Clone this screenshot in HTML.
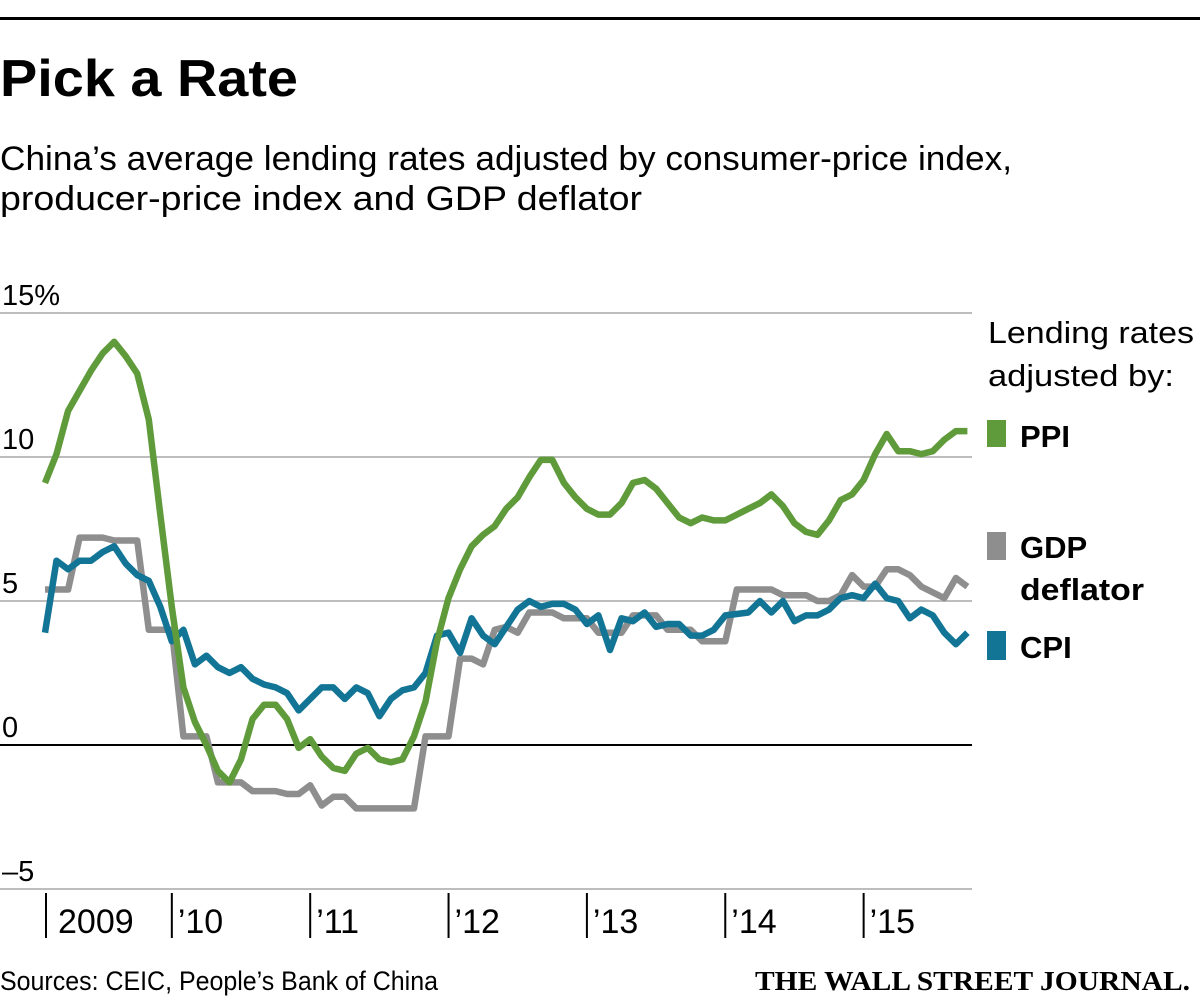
<!DOCTYPE html>
<html><head><meta charset="utf-8"><style>
html,body{margin:0;padding:0;background:#fff;}
svg{display:block;font-family:"Liberation Sans",sans-serif;}
</style></head><body>
<svg id="chart" width="1200" height="1005" viewBox="0 0 1200 1005" xmlns="http://www.w3.org/2000/svg">
<rect x="0" y="17" width="1200" height="3" fill="#000"/>
<text x="0" y="96" font-size="52" font-weight="bold" textLength="298" lengthAdjust="spacingAndGlyphs">Pick a Rate</text>
<text x="0" y="170" font-size="34" textLength="1012" lengthAdjust="spacingAndGlyphs">China’s average lending rates adjusted by consumer-price index,</text>
<text x="0" y="210" font-size="34" textLength="642" lengthAdjust="spacingAndGlyphs">producer-price index and GDP deflator</text>
<g id="grid"></g>
<g id="xaxis"></g>
<g id="lines"></g>
<g>
<text x="988" y="343" font-size="31" textLength="206" lengthAdjust="spacingAndGlyphs">Lending rates</text>
<text x="988" y="386" font-size="31" textLength="186" lengthAdjust="spacingAndGlyphs">adjusted by:</text>
<rect x="987" y="420" width="19" height="27" fill="#5f9b3a"/>
<text x="1020" y="447" font-size="31" font-weight="bold">PPI</text>
<rect x="987" y="532" width="19" height="28" fill="#8e8e8e"/>
<text x="1020" y="558" font-size="31" font-weight="bold">GDP</text>
<text x="1020" y="600" font-size="31" font-weight="bold" textLength="124" lengthAdjust="spacingAndGlyphs">deflator</text>
<rect x="987" y="631" width="19" height="29" fill="#137596"/>
<text x="1020" y="658" font-size="31" font-weight="bold">CPI</text>
</g>
<text x="0" y="990" font-size="27" textLength="438" lengthAdjust="spacingAndGlyphs">Sources: CEIC, People’s Bank of China</text>
<text x="1190" y="990" font-size="27" font-weight="bold" text-anchor="end" font-family="Liberation Serif, serif" textLength="435" lengthAdjust="spacingAndGlyphs">THE WALL STREET JOURNAL.</text>
</svg>
<script>
const yTicks = [15, 10, 5, 0, -5];
const yTickLabels = ["15%", "10", "5", "0", "–5"];
const xTickMonths = [0, 11, 23, 35, 47, 59, 71];
const xTickLabels = ["2009", "’10", "’11", "’12", "’13", "’14", "’15"];
const ppi = [9.1,10.1,11.6,12.3,13.0,13.6,14.0,13.5,12.9,11.3,8.0,4.8,2.0,0.8,0.0,-0.9,-1.3,-0.5,0.9,1.4,1.4,0.9,-0.1,0.2,-0.4,-0.8,-0.9,-0.3,-0.1,-0.5,-0.6,-0.5,0.3,1.5,
3.6,5.1,6.1,6.9,7.3,7.6,8.2,8.6,9.3,9.9,9.9,9.1,8.6,8.2,8.0,8.0,8.4,9.1,9.2,8.9,8.4,7.9,7.7,7.9,7.8,7.8,
8.0,8.2,8.4,8.7,8.3,7.7,7.4,7.3,7.8,8.5,8.7,9.2,10.1,10.8,10.2,10.2,10.1,10.2,10.6,10.9,10.9];
const gdp = [5.4,5.4,5.4,7.2,7.2,7.2,7.1,7.1,7.1,4.0,4.0,4.0,0.3,0.3,0.3,-1.3,-1.3,-1.3,-1.6,-1.6,-1.6,-1.7,-1.7,-1.4,-2.1,-1.8,-1.8,-2.2,-2.2,-2.2,-2.2,-2.2,-2.2,0.3,
0.3,0.3,3.0,3.0,2.8,4.0,4.1,3.9,4.6,4.6,4.6,4.4,4.4,4.4,3.9,3.9,3.9,4.5,4.5,4.5,4.0,4.0,4.0,3.6,3.6,3.6,
5.4,5.4,5.4,5.4,5.2,5.2,5.2,5.0,5.0,5.2,5.9,5.5,5.5,6.1,6.1,5.9,5.5,5.3,5.1,5.8,5.5];
const cpi = [3.9,6.4,6.1,6.4,6.4,6.7,6.9,6.3,5.9,5.7,4.8,3.6,4.0,2.8,3.1,2.7,2.5,2.7,2.3,2.1,2.0,1.8,1.2,1.6,2.0,2.0,1.6,2.0,1.8,1.0,1.6,1.9,2.0,2.5,
3.8,3.9,3.2,4.4,3.8,3.5,4.1,4.7,5.0,4.8,4.9,4.9,4.7,4.2,4.5,3.3,4.4,4.3,4.6,4.1,4.2,4.2,3.8,3.8,4.0,4.5,
4.55,4.6,5.0,4.6,5.0,4.3,4.5,4.5,4.7,5.1,5.2,5.1,5.6,5.1,5.0,4.4,4.7,4.5,3.9,3.5,3.9];

const NS = "http://www.w3.org/2000/svg";
function xs(i){ return 45 + i * 11.53; }
function ys(v){ return 745 - v * 28.8; }
function mk(tag, attrs, parent){
  const e = document.createElementNS(NS, tag);
  for (const k in attrs) e.setAttribute(k, attrs[k]);
  parent.appendChild(e); return e;
}
const grid = document.getElementById('grid');
yTicks.forEach((t, k) => {
  const ln = mk('line', {x1:0, x2:972, y1:ys(t), y2:ys(t), stroke: t===0 ? '#000' : '#bdbdbd', 'stroke-width': 2}, grid);
  
  
  const tx = mk('text', {x:2, y:ys(t)-8, 'font-size':29}, grid);
  tx.textContent = yTickLabels[k];
  
  
});
const xa = document.getElementById('xaxis');
xTickMonths.forEach((m, k) => {
  const x = xs(m) + (k===0 ? 1 : 0);
  const tk = mk('line', {x1:x, x2:x, y1:893, y2:938, stroke:'#000', 'stroke-width':2}, xa);
  
  
  const tx = mk('text', {x:x+(k===0?12:6), y:933, 'font-size':34}, xa);
  tx.textContent = xTickLabels[k];
  
  
});
const lines = document.getElementById('lines');
[[gdp,'#8e8e8e','gdp-deflator-line'],[cpi,'#137596','cpi-line'],[ppi,'#5f9b3a','ppi-line']].forEach(s => {
  const d = s[0].map((v,i) => (i?'L':'M') + xs(i).toFixed(1) + ',' + ys(v).toFixed(1)).join(' ');
  const p = mk('path', {d:d, fill:'none', stroke:s[1], 'stroke-width':6.5, 'stroke-linejoin':'round'}, lines);
  
  
});
</script>
</body></html>
